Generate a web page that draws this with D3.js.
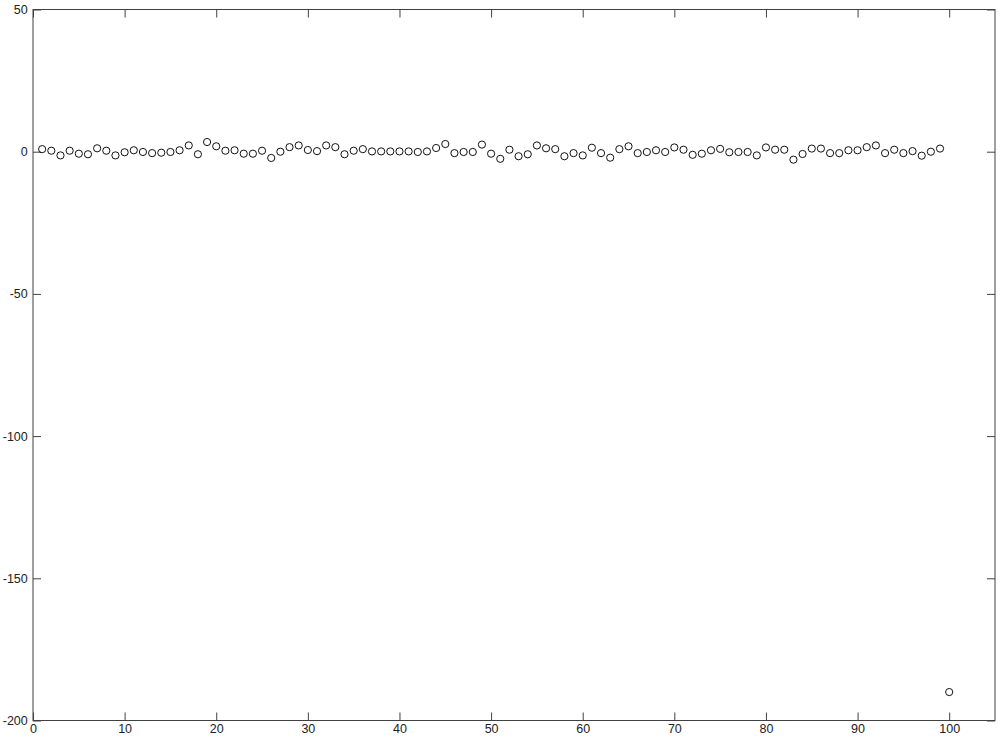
<!DOCTYPE html>
<html>
<head>
<meta charset="utf-8">
<script src="https://cdn.jsdelivr.net/npm/d3@7"></script>
<style>
  body { margin: 0; background: #fff; }
  svg text { font-family: "Liberation Sans", Arial, sans-serif; font-size: 12px; fill: #222; }
</style>
</head>
<body>
<svg id="chart" width="1000" height="740"></svg>
<script>
// index 1..100, value
var yValues = [
   0.9,  0.35, -1.3,  0.35, -0.7, -0.9,  1.2,  0.35, -1.3, -0.2,
   0.5, -0.1, -0.5, -0.35, -0.1,  0.5,  2.2, -0.9,  3.4,  1.9,
   0.35, 0.5, -0.7, -0.7,  0.35, -2.2,  0.0,  1.6,  2.2,  0.6,
   0.2,  2.2,  1.6, -0.9,  0.35,  0.9,  0.1,  0.1,  0.1,  0.1,
   0.1, -0.1,  0.1,  1.3,  2.7, -0.5, -0.1, -0.1,  2.5, -0.7,
  -2.5,  0.7, -1.6, -0.9,  2.2,  1.2,  0.9, -1.6, -0.5, -1.3,
   1.4, -0.5, -2.1,  0.9,  1.9, -0.5, -0.1,  0.5, -0.1,  1.5,
   0.7, -1.1, -0.7,  0.5,  1.0, -0.2, -0.1, -0.1, -1.3,  1.5,
   0.7,  0.7, -2.8, -0.8,  1.1,  1.1, -0.5, -0.5,  0.5,  0.5,
   1.6,  2.2, -0.5,  0.7, -0.5,  0.2, -1.4,  0.0,  1.1, -190
];
var xTicks = [0, 10, 20, 30, 40, 50, 60, 70, 80, 90, 100];
var yTicks = [50, 0, -50, -100, -150, -200];

var svg = d3.select("#chart"),
    margin = {top: 9.5, right: 5, bottom: 19.5, left: 33},
    width = +svg.attr("width") - margin.left - margin.right,
    height = +svg.attr("height") - margin.top - margin.bottom;

var x = d3.scaleLinear().domain([0, 105]).range([0, width]);
var y = d3.scaleLinear().domain([-200, 50]).range([height, 0]);

var g = svg.append("g")
    .attr("transform", "translate(" + margin.left + "," + margin.top + ")");

var tickLen = 8;

// bottom and left axes with labels, ticks drawn inward (plain hyphen minus, like the original)
var xAxis = g.append("g")
    .attr("transform", "translate(0," + height + ")")
    .call(d3.axisBottom(x).tickValues(xTicks).tickFormat(String)
      .tickSizeInner(-tickLen).tickSizeOuter(0).tickPadding(4));
var yAxis = g.append("g")
    .call(d3.axisLeft(y).tickValues(yTicks).tickFormat(String)
      .tickSizeInner(-tickLen).tickSizeOuter(0).tickPadding(4));

// top and right ticks, no labels
var xTop = g.append("g")
    .call(d3.axisTop(x).tickValues(xTicks).tickSizeInner(-tickLen).tickSizeOuter(0).tickFormat(""));
var yRight = g.append("g")
    .attr("transform", "translate(" + width + ",0)")
    .call(d3.axisRight(y).tickValues(yTicks).tickSizeInner(-tickLen).tickSizeOuter(0).tickFormat(""));

[xAxis, yAxis, xTop, yRight].forEach(function(a) {
  a.select(".domain").remove();
  a.selectAll("line").attr("stroke", "#404040");
  a.selectAll("text").attr("fill", "#222").style("font-size", "12.5px")
    .style("font-family", '"Liberation Sans", Arial, sans-serif');
});
yAxis.selectAll("text").attr("dx", "-0.1em");

// box
g.append("rect")
    .attr("x", 0).attr("y", 0)
    .attr("width", width).attr("height", height)
    .attr("fill", "none")
    .attr("stroke", "#404040")
    .attr("stroke-width", 1);

// markers
g.selectAll("circle.pt")
    .data(yValues)
  .enter().append("circle")
    .attr("class", "pt")
    .attr("cx", function(d, i) { return x(i + 1); })
    .attr("cy", function(d) { return y(d); })
    .attr("r", 3.6)
    .attr("fill", "none")
    .attr("stroke", "#111")
    .attr("stroke-width", 1);
</script>
</body>
</html>
